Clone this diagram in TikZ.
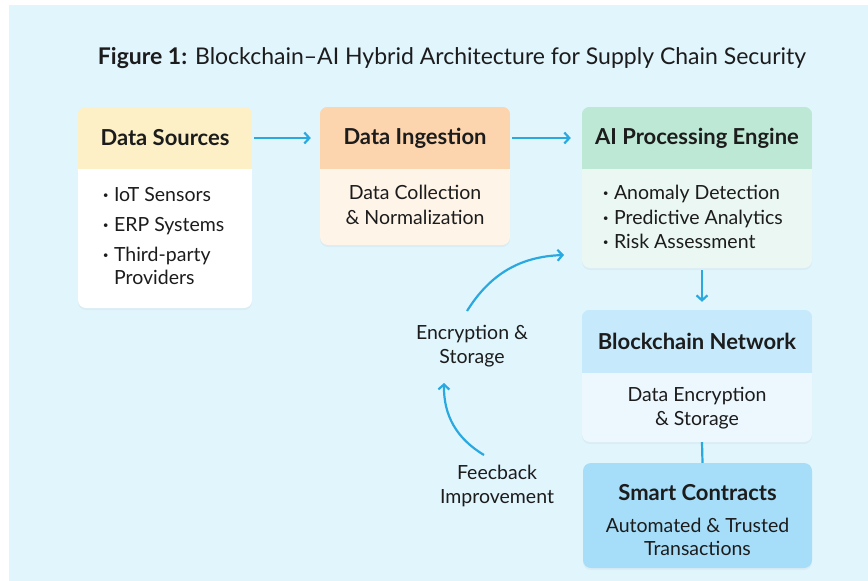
\documentclass[tikz,border=0pt]{standalone}
\usepackage{fontspec}
\setmainfont{Lato}
\usetikzlibrary{arrows.meta,shadows,calc}
\definecolor{bgc}{HTML}{E1F5FD}
\definecolor{txt}{HTML}{1C1C1C}
\definecolor{arrc}{HTML}{2AA9E1}
\definecolor{dsh}{HTML}{FDF0C6}
\definecolor{dsb}{HTML}{FFFFFF}
\definecolor{dih}{HTML}{FCD5AE}
\definecolor{dib}{HTML}{FEF4E8}
\definecolor{aih}{HTML}{BDE8D5}
\definecolor{aib}{HTML}{EAF7F3}
\definecolor{bch}{HTML}{C6E9FB}
\definecolor{bcb}{HTML}{ECF8FE}
\definecolor{scf}{HTML}{A6DDF9}
\newcommand{\bul}{\textbf{·}\hspace{5.5pt}}
\begin{document}
\begin{tikzpicture}[x=1pt,y=-1pt,
  box/.style={rectangle, rounded corners=8pt, draw=none, inner sep=0pt,
    drop shadow={opacity=0.07, shadow xshift=0pt, shadow yshift=-2pt}},
  hdr/.style={rectangle, inner sep=0pt, minimum height=62pt, text=txt,
    font=\fontsize{22}{26}\selectfont\bfseries},
  bodytxt/.style={text=txt, inner sep=0pt, font=\fontsize{19.5}{23.5}\selectfont},
  arr/.style={draw=arrc, line width=2.2pt, -{Straight Barb[length=5pt,width=11pt]}},
  conn/.style={draw=arrc, line width=2.2pt}
]
\useasboundingbox (0,0) rectangle (868,581);
\fill[white] (0,0) rectangle (868,581);
\fill[bgc] (9,5) rectangle (868,581);

% title
\node[text=txt, inner sep=0pt, font=\fontsize{23}{27}\selectfont] (title) at (452,58)
  {\textbf{Figure 1:} Blockchain–AI Hybrid Architecture for Supply Chain Security};

% Data Sources
\node[box, fill=dsb, minimum width=174pt, minimum height=201pt] (ds) at (165,207.5) {};
\begin{scope}
  \clip[rounded corners=8pt] (ds.north west) rectangle (ds.south east);
  \fill[dsh] (ds.north west) rectangle ($(ds.north east)+(0,62)$);
\end{scope}
\node[hdr, minimum width=174pt] (dsH) at (165,138) {Data Sources};
\node[bodytxt, align=left, anchor=north west] (dsL) at (103,187)
  {\bul IoT Sensors\\[6.5pt] \bul ERP Systems\\[6.5pt] \bul Third-party\\ \hphantom{\bul}Providers};

% Data Ingestion
\node[box, fill=dib, minimum width=190pt, minimum height=138pt] (di) at (415,176) {};
\begin{scope}
  \clip[rounded corners=8pt] (di.north west) rectangle (di.south east);
  \fill[dih] (di.north west) rectangle ($(di.north east)+(0,62)$);
\end{scope}
\node[hdr, minimum width=190pt] (diH) at (415,138) {Data Ingestion};
\node[bodytxt, align=center] (diL) at (415,205)
  {Data Collection\\[1pt] \& Normalization};

% AI Processing Engine
\node[box, fill=aib, minimum width=230pt, minimum height=161pt] (ai) at (697,187.5) {};
\begin{scope}
  \clip[rounded corners=8pt] (ai.north west) rectangle (ai.south east);
  \fill[aih] (ai.north west) rectangle ($(ai.north east)+(0,62)$);
\end{scope}
\node[hdr, minimum width=230pt] (aiH) at (697,138) {AI Processing Engine};
\node[bodytxt, align=left, anchor=north west] (aiL) at (603,185)
  {\bul Anomaly Detection\\[1pt] \bul Predictive Analytics\\[1pt] \bul Risk Assessment};

% Blockchain Network
\node[box, fill=bcb, minimum width=230pt, minimum height=132pt] (bc) at (697,376) {};
\begin{scope}
  \clip[rounded corners=8pt] (bc.north west) rectangle (bc.south east);
  \fill[bch] (bc.north west) rectangle ($(bc.north east)+(0,63)$);
\end{scope}
\node[hdr, minimum width=230pt, minimum height=63pt] (bcH) at (697,341.5) {Blockchain Network};
\node[bodytxt, align=center] (bcL) at (697,408)
  {Data Encryption\\[1pt] \& Storage};

% Smart Contracts
\node[box, fill=scf, minimum width=229pt, minimum height=105pt] (sc) at (697.5,515.5) {};
\node[hdr, minimum width=229pt, minimum height=30pt] (scH) at (697.5,493) {Smart Contracts};
\node[bodytxt, align=center] (scL) at (697.5,537)
  {Automated \& Trusted\\[0pt] Transactions};

% side labels
\node[bodytxt, align=center] (es) at (472,346) {Encryption \&\\[0pt] Storage};
\node[bodytxt, align=center] (fb) at (497,486) {Feecback\\[0pt] Improvement};
\coordinate (esOut) at (467,311);
\coordinate (aiIn) at (564,255);
\coordinate (fbOut) at (484,455);
\coordinate (esIn) at (444,383);

% connectors
\draw[arr, shorten <=2pt, shorten >=9pt] (dsH.east) -- (diH.west);
\draw[arr, shorten <=2pt, shorten >=11pt] (diH.east) -- (aiH.west);
\draw[arr, shorten <=2pt, shorten >=8pt] ([xshift=5pt]ai.south) -- ([xshift=5pt]bc.north);
\draw[conn] ([xshift=5pt]bc.south) -- ([xshift=5pt]sc.north);
\draw[arr] (esOut) to[bend left=28] (aiIn);
\draw[arr] (fbOut) to[bend left=30] (esIn);
\end{tikzpicture}
\end{document}
